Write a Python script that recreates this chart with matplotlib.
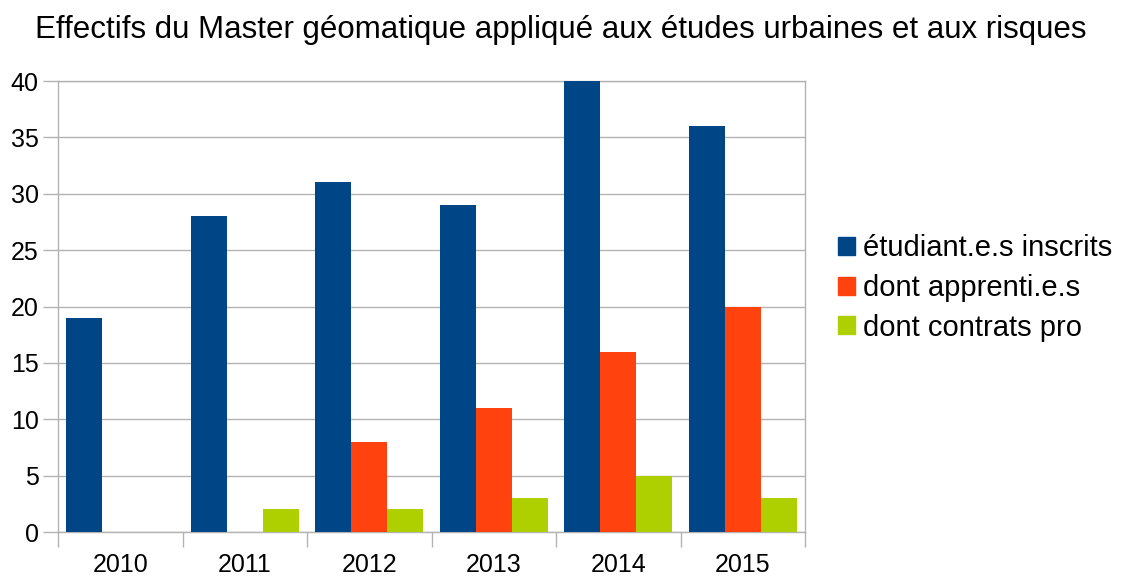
import numpy as np
import matplotlib
matplotlib.use("Agg")
import matplotlib.pyplot as plt
from matplotlib.patches import Patch

plt.rcParams['font.family'] = ['Liberation Sans', 'DejaVu Sans']

annees = ['2010', '2011', '2012', '2013', '2014', '2015']
inscrits = [19, 28, 31, 29, 40, 36]
apprentis = [0, 0, 8, 11, 16, 20]
contrats_pro = [0, 2, 2, 3, 5, 3]

series = [
    ('étudiant.e.s inscrits', inscrits, '#004586'),
    ('dont apprenti.e.s', apprentis, '#ff420e'),
    ('dont contrats pro', contrats_pro, '#aecf00'),
]

grey = '#b3b3b3'
fig = plt.figure(figsize=(11.22, 5.79), dpi=100)
ax = fig.add_axes([58 / 1122, 1 - 532 / 579, (805 - 58) / 1122, (532 - 81) / 579])

x = np.arange(len(annees))
w = 0.29
for i, (nom, vals, col) in enumerate(series):
    ax.bar(x + (i - 1) * w, vals, width=w, color=col, label=nom, zorder=3)

ax.set_xlim(-0.5, len(annees) - 0.5)
ax.set_ylim(0, 40)
ax.set_yticks(range(0, 41, 5))
ax.set_xticks(x)
ax.set_xticklabels(annees)
ax.set_xticks(np.arange(-0.5, len(annees), 1), minor=True)
ax.tick_params(axis='x', which='major', length=0, labelsize=18, pad=15)
ax.tick_params(axis='x', which='minor', length=11, color=grey, width=1)
ax.tick_params(axis='y', length=11, color=grey, width=1, labelsize=18, pad=3)
ax.yaxis.grid(True, color=grey, lw=1, zorder=0)
for s in ax.spines.values():
    s.set_color(grey)
    s.set_linewidth(1)

fig.text(0.5, 1 - 30 / 579,
         'Effectifs du Master géomatique appliqué aux études urbaines et aux risques',
         fontsize=22.5, ha='center', va='center')

handles = [Patch(color=c, label=n) for n, _, c in series]
fig.legend(handles=handles, loc='center left', bbox_to_anchor=(838 / 1122, 1 - 288 / 579),
           frameon=False, fontsize=21, handlelength=0.58, handleheight=0.58,
           handletextpad=0.28, labelspacing=0.4, borderaxespad=0, borderpad=0)

fig.savefig('out.png', dpi=100)
